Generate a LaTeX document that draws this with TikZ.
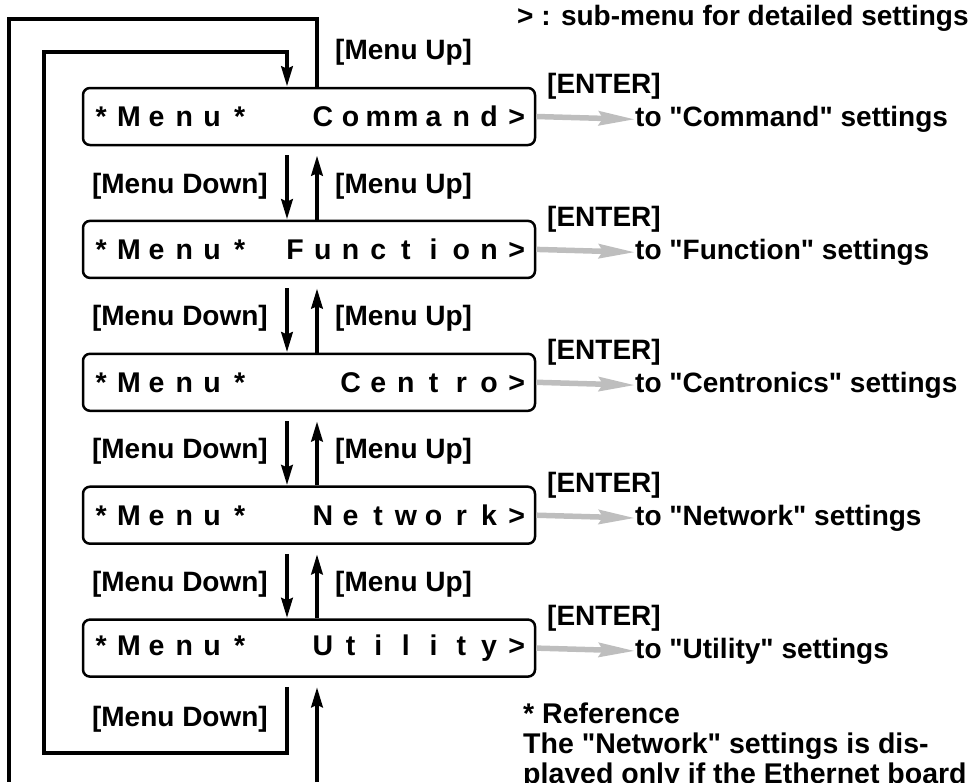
\documentclass[tikz,border=0pt]{standalone}
\usepackage{fontspec}
\setmainfont{Liberation Sans}
\newfontfamily\lblfam{Liberation Sans}
\usetikzlibrary{arrows.meta}
\newcommand\lcd[1]{\lcdA#1\relax}
\def\lcdA#1{\ifx\relax#1\else\makebox[27.7pt]{#1}\expandafter\lcdA\fi}
\begin{document}
\begin{tikzpicture}[x=1pt,y=-1pt,
  menubox/.style={draw, line width=2.5pt, rounded corners=7pt, minimum width=452pt,
    minimum height=57pt, inner sep=0pt, font=\lblfam\fontsize{28.5}{30}\selectfont\bfseries},
  lbl/.style={inner sep=0pt, font=\lblfam\fontsize{28}{30}\selectfont\bfseries},
  note/.style={inner sep=0pt, font=\lblfam\fontsize{28.5}{30}\selectfont\bfseries},
  blk/.style={line width=4.5pt},
  tip/.style={-{Stealth[length=20pt,width=11pt,inset=2pt]}},
  gry/.style={line width=5.5pt, draw={rgb,255:red,190;green,190;blue,190},
    -{Stealth[length=36pt,width=14pt,inset=4pt]}}]
\useasboundingbox (0,0) rectangle (974,782);

% boxes
\node[menubox] (cmd) at (309,116.5) {\lcd{*Menu*~~Command>}};
\node[menubox] (fun) at (309,249.4) {\lcd{*Menu*~Function>}};
\node[menubox] (cen) at (309,382.3) {\lcd{*Menu*~~~Centro>}};
\node[menubox] (net) at (309,515.2) {\lcd{*Menu*~~Network>}};
\node[menubox] (uti) at (309,648.1) {\lcd{*Menu*~~Utility>}};

% legend
\node[lbl, anchor=base west] (leg) at (517,25) {> : sub-menu for detailed settings};
\node[lbl, anchor=base west] (up0) at (335,59) {[Menu Up]};

% between-box arrows and labels
\foreach \a/\b/\m in {cmd/fun/183, fun/cen/315.9, cen/net/448.8, net/uti/581.7}{
  \draw[blk,tip] ([xshift=-22pt,yshift=-9pt]\a.south) -- ([xshift=-22pt]\b.north);
  \draw[blk,tip] ([xshift=8pt]\b.north) -- ([xshift=8pt,yshift=-9pt]\a.south);
  \node[lbl, anchor=base east] (dn-\a) at (268,\m+10) {[Menu Down]};
  \node[lbl, anchor=base west] (up-\a) at (335,\m+10) {[Menu Up]};
}
\node[lbl, anchor=base east] (dn-uti) at (268,726) {[Menu Down]};

% ENTER arrows
\foreach \n/\t in {cmd/Command, fun/Function, cen/Centronics, net/Network, uti/Utility}{
  \node[lbl, anchor=base west] (to-\n) at ([yshift=-10pt]\n.center -| 635,0) {to "\t" settings};
  \node[lbl, anchor=base west] (en-\n) at ([yshift=23pt]\n.center -| 547,0) {[ENTER]};
  \draw[gry] (\n.east) -- (to-\n.west);
}

% inner loop
\coordinate (ibl) at (44,753);
\coordinate (itl) at (44,52);
\draw[blk,tip,line join=miter] ([xshift=-22pt,yshift=-9pt]uti.south) |- (ibl) -- (itl) -| ([xshift=-22pt]cmd.north);

% outer loop
\coordinate (otl) at (9,19);
\coordinate (obl) at (9,782);
\coordinate (obr) at (317,782);
\draw[blk,line join=miter] ([xshift=8pt]cmd.north) |- (otl) -- (obl);
\draw[blk,tip] (obr) -- ([xshift=8pt,yshift=-9pt]uti.south);

% reference note
\node[note, anchor=base west] (ref1) at (523,723) {* Reference};
\node[note, anchor=base west] (ref2) at (523,753) {The "Network" settings is dis-};
\node[note, anchor=base west] (ref3) at (523,783) {played only if the Ethernet board};
\end{tikzpicture}
\end{document}
